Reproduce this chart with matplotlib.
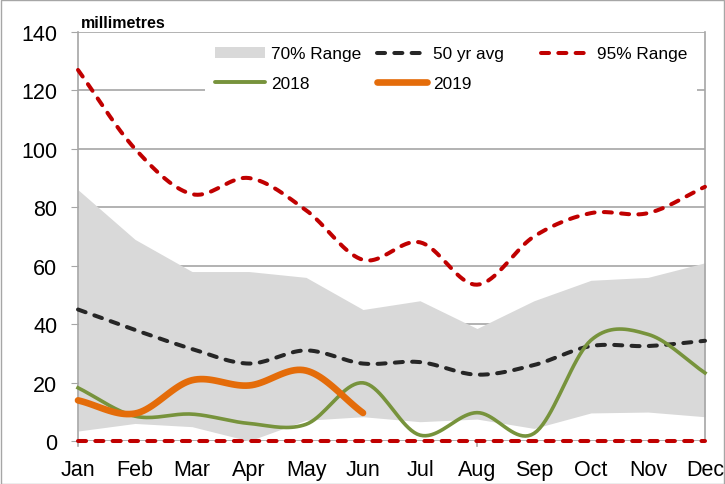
import numpy as np
import matplotlib
matplotlib.use("Agg")
import matplotlib.pyplot as plt
import matplotlib.transforms as mtransforms
from matplotlib.patches import Patch, Rectangle
from matplotlib.lines import Line2D

plt.rcParams["font.family"] = ["Liberation Sans", "DejaVu Sans"]

months = ["Jan", "Feb", "Mar", "Apr", "May", "Jun", "Jul", "Aug", "Sep", "Oct", "Nov", "Dec"]
range70_lo = [3.4, 6, 4.9, 0, 7.1, 8.3, 6.6, 7.5, 4.3, 9.6, 9.9, 8.3]
range70_hi = [86, 69, 58, 58, 56, 45, 48, 38.5, 48, 55, 56, 61]
avg50 = [45, 38, 31.5, 26.5, 31, 26.5, 27, 22.7, 26, 32.5, 32.5, 34.3]
range95_hi = [127, 100, 84.5, 90, 79, 62, 68, 53.5, 70, 78, 78, 87]
range95_lo = [0] * 12
y2018 = [18.2, 8.5, 9.2, 6, 5.7, 19.9, 2, 9.7, 2.6, 34.5, 36.5, 23.3]
y2019 = [13.9, 9.4, 20.8, 19, 24.1, 9.6]

C_FILL, C_AVG, C_95 = "#d9d9d9", "#262626", "#c00000"
C_18, C_19 = "#77933c", "#e46c0a"
DASH = (0, (2.0, 2.3))


def smooth(y, n=20):
    # Catmull-Rom, like Excel's smoothed line
    y = np.asarray(y, float)
    x = np.arange(len(y), dtype=float)
    p = np.concatenate([[2 * y[0] - y[1]], y, [2 * y[-1] - y[-2]]])
    xs, ys = [], []
    for i in range(len(y) - 1):
        p0, p1, p2, p3 = p[i], p[i + 1], p[i + 2], p[i + 3]
        t = np.linspace(0, 1, n, endpoint=False)
        v = 0.5 * (2 * p1 + (-p0 + p2) * t + (2 * p0 - 5 * p1 + 4 * p2 - p3) * t ** 2
                   + (-p0 + 3 * p1 - 3 * p2 + p3) * t ** 3)
        xs.extend(x[i] + t)
        ys.extend(v)
    xs.append(x[-1])
    ys.append(y[-1])
    return np.array(xs), np.array(ys)


fig = plt.figure(figsize=(7.25, 4.85), dpi=100)
ax = fig.add_axes([0.1076, 0.0887, 0.8648, 0.8433])

x = np.arange(12)
ax.fill_between(x, range70_lo, range70_hi, color=C_FILL, lw=0, zorder=1)

for data, col in ((range95_hi, C_95), (range95_lo, C_95), (avg50, C_AVG)):
    sx, sy = smooth(data)
    ax.plot(sx, sy, color=col, lw=2.9, ls=DASH, dash_capstyle="round",
            zorder=3, clip_on=False)

sx, sy = smooth(y2018)
ax.plot(sx, sy, color=C_18, lw=2.6, zorder=4, clip_on=False)
sx, sy = smooth(y2019)
ax.plot(sx, sy, color=C_19, lw=4.8, zorder=5, solid_capstyle="round", clip_on=False)

ax.set_xlim(0, 11)
ax.set_ylim(0, 140)
ax.set_yticks(range(0, 141, 20))
ax.set_xticks(x)
ax.set_xticklabels(months)
ax.tick_params(axis="both", labelsize=15.5, colors="#a6a6a6", labelcolor="black", length=5)
ax.tick_params(axis="y", pad=10)
ax.tick_params(axis="x", length=0, pad=13)
ax.grid(axis="y", color="#a6a6a6", lw=1.2, zorder=0)
ax.set_axisbelow(True)
for s in ("left", "right"):
    ax.spines[s].set_color("#a6a6a6")
    ax.spines[s].set_linewidth(1.2)
ax.spines["top"].set_visible(False)
ax.spines["bottom"].set_visible(False)

# small marks below the axis at Jan and Aug
trans = mtransforms.blended_transform_factory(ax.transData, ax.transAxes)
for xv in (0, 7):
    ax.plot([xv, xv], [0, -0.013], transform=trans, color="#a6a6a6", lw=1.2,
            clip_on=False, zorder=0)

ax.text(0.005, 1.012, "millimetres", transform=ax.transAxes, fontsize=11.5,
        fontweight="bold", va="baseline")

# legend: white box behind, three equal-width columns
ax.add_patch(Rectangle((205 / 725, 1 - 101 / 485), 492 / 725, 64 / 485,
                       transform=fig.transFigure, facecolor="white", edgecolor="none",
                       zorder=1.5, clip_on=False))
cols = [
    (215, [Patch(facecolor=C_FILL, edgecolor="none"),
           Line2D([], [], color=C_18, lw=2.8, solid_capstyle="round")],
     ["70% Range", "2018"]),
    (377, [Line2D([], [], color=C_AVG, lw=2.9, ls=DASH, dash_capstyle="round"),
           Line2D([], [], color=C_19, lw=4.8, solid_capstyle="round")],
     ["50 yr avg", "2019"]),
    (541, [Line2D([], [], color=C_95, lw=2.9, ls=DASH, dash_capstyle="round")],
     ["95% Range"]),
]
for xpix, hs, ls in cols:
    leg = ax.legend(hs, ls, loc="upper left",
                    bbox_to_anchor=(xpix / 725, 1 - 47.5 / 485), bbox_transform=fig.transFigure,
                    fontsize=12.4, frameon=False, handlelength=2.9, handleheight=0.55,
                    handletextpad=0.35, labelspacing=0.85, borderpad=0, borderaxespad=0)
    leg.set_zorder(6)
    ax.add_artist(leg)
ax.legend_ = None

fig.patches.append(plt.Rectangle((0.002, 0), 0.996, 0.998, transform=fig.transFigure,
                                 fill=False, edgecolor="#a6a6a6", lw=1))

fig.savefig("out.png", dpi=100)
